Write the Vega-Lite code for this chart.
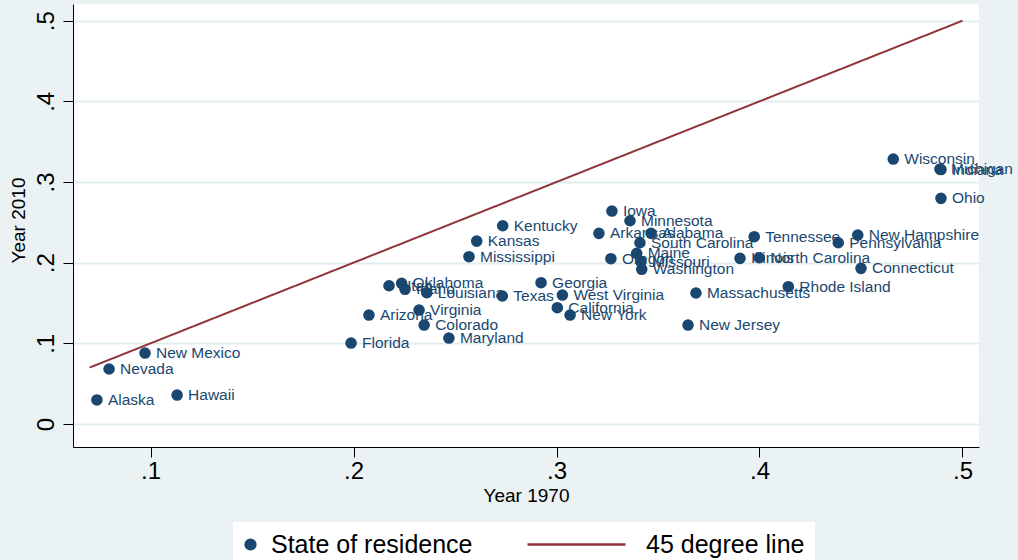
{
  "$schema": "https://vega.github.io/schema/vega-lite/v6.json",
  "autosize": {"type": "none"},
  "width": 906,
  "height": 443,
  "padding": {"left": 73, "top": 4, "right": 39, "bottom": 113},
  "background": "#eaf2f3",
  "view": {"fill": "white", "stroke": null},
  "config": {
    "font": "Liberation Sans",
    "axis": {
      "domainColor": "#000000",
      "tickColor": "#000000",
      "domainWidth": 1,
      "tickWidth": 1,
      "tickSize": 10,
      "labelColor": "#000000",
      "titleColor": "#000000",
      "labelFont": "Liberation Sans",
      "titleFont": "Liberation Sans",
      "titleFontWeight": "normal",
      "labelFontSize": 24,
      "titleFontSize": 19
    }
  },
  "datasets": {
    "states": [
      {"state": "Alaska", "x": 0.0736, "y": 0.0298},
      {"state": "Nevada", "x": 0.0796, "y": 0.0682},
      {"state": "New Mexico", "x": 0.0973, "y": 0.088},
      {"state": "Hawaii", "x": 0.1131, "y": 0.0359},
      {"state": "Florida", "x": 0.1988, "y": 0.1004},
      {"state": "Arizona", "x": 0.2076, "y": 0.1351},
      {"state": "Virginia", "x": 0.2323, "y": 0.1413},
      {"state": "Colorado", "x": 0.2348, "y": 0.1227},
      {"state": "Maryland", "x": 0.247, "y": 0.1066},
      {"state": "Utah", "x": 0.2175, "y": 0.1714},
      {"state": "Oklahoma", "x": 0.2237, "y": 0.1744},
      {"state": "Idaho", "x": 0.2254, "y": 0.167},
      {"state": "Louisiana", "x": 0.2361, "y": 0.1628},
      {"state": "Texas", "x": 0.2733, "y": 0.1587},
      {"state": "Mississippi", "x": 0.2569, "y": 0.2074},
      {"state": "Kansas", "x": 0.2607, "y": 0.2268},
      {"state": "Kentucky", "x": 0.2735, "y": 0.2458},
      {"state": "Georgia", "x": 0.2924, "y": 0.1752},
      {"state": "West Virginia", "x": 0.3029, "y": 0.1599},
      {"state": "California", "x": 0.3004, "y": 0.1442},
      {"state": "New York", "x": 0.3067, "y": 0.1351},
      {"state": "Iowa", "x": 0.3273, "y": 0.264},
      {"state": "Minnesota", "x": 0.3362, "y": 0.252},
      {"state": "Arkansas", "x": 0.3209, "y": 0.2364},
      {"state": "Alabama", "x": 0.3466, "y": 0.2364},
      {"state": "South Carolina", "x": 0.3411, "y": 0.2247},
      {"state": "Maine", "x": 0.3395, "y": 0.2116},
      {"state": "Missouri", "x": 0.3416, "y": 0.2014},
      {"state": "Washington", "x": 0.342, "y": 0.1918},
      {"state": "Oregon", "x": 0.3268, "y": 0.2049},
      {"state": "Massachusetts", "x": 0.3687, "y": 0.1624},
      {"state": "New Jersey", "x": 0.3648, "y": 0.1227},
      {"state": "Tennessee", "x": 0.3974, "y": 0.2322},
      {"state": "Illinois", "x": 0.3904, "y": 0.2054},
      {"state": "North Carolina", "x": 0.3999, "y": 0.2061},
      {"state": "Rhode Island", "x": 0.4142, "y": 0.1702},
      {"state": "Pennsylvania", "x": 0.4388, "y": 0.2247},
      {"state": "New Hampshire", "x": 0.4484, "y": 0.2343},
      {"state": "Connecticut", "x": 0.45, "y": 0.193},
      {"state": "Wisconsin", "x": 0.4659, "y": 0.3285},
      {"state": "Michigan", "x": 0.4889, "y": 0.3161},
      {"state": "Indiana", "x": 0.4894, "y": 0.3155},
      {"state": "Ohio", "x": 0.4894, "y": 0.2798}
    ],
    "line": [
      {"x": 0.07, "y": 0.07},
      {"x": 0.5, "y": 0.5}
    ]
  },
  "encoding": {
    "x": {
      "field": "x",
      "type": "quantitative",
      "scale": {"domain": [0.06182, 0.50813], "nice": false, "zero": false},
      "axis": {
        "title": "Year 1970",
        "values": [0.1, 0.2, 0.3, 0.4, 0.5],
        "labelExpr": "replace(format(datum.value, '.1f'), '0.', '.')",
        "grid": false,
        "labelPadding": 2,
        "labelBaseline": "top",
        "titleBaseline": "alphabetic",
        "titleY": 54
      }
    },
    "y": {
      "field": "y",
      "type": "quantitative",
      "scale": {"domain": [-0.0285, 0.5207], "nice": false, "zero": false},
      "axis": {
        "title": "Year 2010",
        "values": [0, 0.1, 0.2, 0.3, 0.4, 0.5],
        "labelExpr": "datum.value == 0 ? '0' : replace(format(datum.value, '.1f'), '0.', '.')",
        "grid": true,
        "gridColor": "#e3edf0",
        "gridWidth": 2,
        "labelAngle": -90,
        "labelAlign": "center",
        "labelBaseline": "alphabetic",
        "labelPadding": 10,
        "titleAngle": -90,
        "titleBaseline": "alphabetic",
        "titleX": -49,
        "titleY": 216
      }
    }
  },
  "layer": [
    {
      "data": {"name": "line"},
      "mark": {"type": "line", "color": "#90353b", "strokeWidth": 2},
      "encoding": {
        "strokeDash": {
          "datum": "45 degree line",
          "scale": {"range": [[1, 0]]},
          "legend": {
            "title": null,
            "orient": "none",
            "legendX": 409,
            "legendY": 518,
            "fillColor": "white",
            "padding": 10,
            "symbolType": "M-1,0H13",
            "symbolSize": 196,
            "symbolOffset": 30,
            "symbolStrokeColor": "#90353b",
            "symbolStrokeWidth": 2.5,
            "labelFontSize": 25,
            "labelFont": "Liberation Sans",
            "labelColor": "#000000",
            "labelOffset": 99,
            "labelLimit": 400
          }
        }
      }
    },
    {
      "data": {"name": "states"},
      "mark": {"type": "point", "filled": true, "size": 135, "opacity": 1, "shape": "circle"},
      "encoding": {
        "color": {
          "datum": "State of residence",
          "scale": {"range": ["#1a476f"]},
          "legend": {
            "title": null,
            "orient": "none",
            "legendX": 160,
            "legendY": 518,
            "fillColor": "white",
            "padding": 10,
            "symbolType": "circle",
            "symbolSize": 150,
            "symbolOffset": -5,
            "symbolOpacity": 1,
            "labelFontSize": 25,
            "labelFont": "Liberation Sans",
            "labelColor": "#000000",
            "labelOffset": 8,
            "labelLimit": 400
          }
        }
      }
    },
    {
      "data": {"name": "states"},
      "mark": {"type": "text", "align": "left", "baseline": "middle", "dx": 11, "fontSize": 15.5, "font": "Liberation Sans", "color": "#1a476f"},
      "encoding": {
        "text": {"field": "state"}
      }
    }
  ]
}
